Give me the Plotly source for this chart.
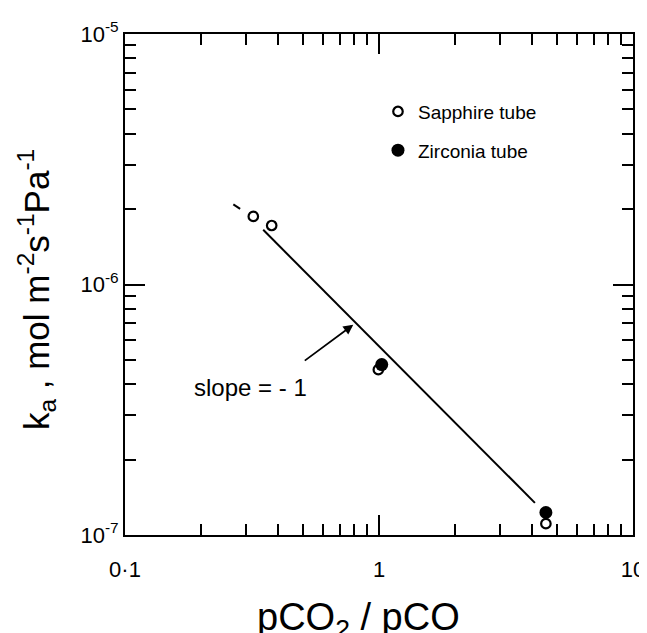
import plotly.graph_objects as go
import math

# Data
sapphire_x = [0.320, 0.378, 0.994, 4.54]
sapphire_y = [1.87e-6, 1.72e-6, 4.57e-7, 1.11e-7]
zirconia_x = [1.025, 4.54]
zirconia_y = [4.79e-7, 1.23e-7]
fit_x = [0.267, 0.284, None, 0.350, 4.11]
fit_y = [2.09e-6, 2.005e-6, None, 1.653e-6, 1.344e-7]
arrow_head = (0.792, 6.91e-7)
slope_label_pos = (0.313, 3.88e-7)
x_tickvals = [0.1, 1, 10]
x_ticktext = ["0·1", "1", "10"]
y_tickvals = [1e-7, 1e-6, 1e-5]
y_ticktext = ["10<sup>-7</sup>", "10<sup>-6</sup>", "10<sup>-5</sup>"]
x_minor = [0.2, 0.3, 0.4, 0.5, 0.6, 0.7, 0.8, 0.9, 2, 3, 4, 5, 6, 7, 8, 9]
y_minor = [2e-7, 3e-7, 4e-7, 5e-7, 6e-7, 7e-7, 8e-7, 9e-7,
           2e-6, 3e-6, 4e-6, 5e-6, 6e-6, 7e-6, 8e-6, 9e-6]

FONT = "Liberation Sans, Arial, sans-serif"

fig = go.Figure()
fig.add_trace(go.Scatter(x=fit_x, y=fit_y, mode="lines",
                         line=dict(color="black", width=2), showlegend=False))
fig.add_trace(go.Scatter(x=sapphire_x, y=sapphire_y, mode="markers", name="Sapphire tube",
                         legendgroup="a",
                         marker=dict(symbol="circle-open", size=9.5, color="black",
                                     line=dict(width=2.2, color="black"))))
fig.add_trace(go.Scatter(x=zirconia_x, y=zirconia_y, mode="markers", name="Zirconia tube",
                         legendgroup="b",
                         marker=dict(symbol="circle", size=13, color="black")))

axis_common = dict(type="log", showgrid=False, zeroline=False, showline=True,
                   linecolor="black", linewidth=2, mirror="ticks", automargin=False,
                   ticks="inside", ticklen=20, tickwidth=2, tickcolor="black",
                   tickfont=dict(family=FONT, size=22, color="black"))

fig.update_layout(
    width=639, height=625,
    margin=dict(l=117, r=14, t=26, b=98),
    paper_bgcolor="white", plot_bgcolor="white",
    xaxis=dict(**axis_common, range=[-1, 1], tickvals=x_tickvals, ticktext=x_ticktext,
               ticklabelstandoff=14,
               minor=dict(tickvals=x_minor, ticks="inside", ticklen=11, tickwidth=2,
                          tickcolor="black", showgrid=False)),
    yaxis=dict(**axis_common, range=[-7, -5], tickvals=y_tickvals, ticktext=y_ticktext,
               ticklabelstandoff=0,
               minor=dict(tickvals=y_minor, ticks="inside", ticklen=11, tickwidth=2,
                          tickcolor="black", showgrid=False)),
    legend=dict(x=0.498, y=0.883, xanchor="left", yanchor="top",
                traceorder="grouped", tracegroupgap=11,
                font=dict(family=FONT, size=19, color="black"),
                bgcolor="rgba(0,0,0,0)"),
    showlegend=True,
)

fig.add_annotation(x=math.log10(arrow_head[0]), y=math.log10(arrow_head[1]),
                   xref="x", yref="y", ax=-50, ay=37, axref="pixel", ayref="pixel",
                   showarrow=True, arrowhead=2, arrowsize=1.1, arrowwidth=1.8,
                   arrowcolor="black", text="")
fig.add_annotation(x=math.log10(slope_label_pos[0]), y=math.log10(slope_label_pos[1]),
                   xref="x", yref="y", showarrow=False, text="slope = - 1",
                   font=dict(family=FONT, size=24, color="black"),
                   xanchor="center", yanchor="middle")
fig.add_annotation(x=-0.175, y=0.489, xref="paper", yref="paper", showarrow=False,
                   textangle=-90, xanchor="center", yanchor="middle",
                   text="k<sub>a</sub> , mol m<sup>-2</sup>s<sup>-1</sup>Pa<sup>-1</sup>",
                   font=dict(family=FONT, size=35, color="black"))
fig.add_annotation(x=0.46, y=-0.170, xref="paper", yref="paper", showarrow=False,
                   xanchor="center", yanchor="middle",
                   text="pCO<sub>2</sub> / pCO",
                   font=dict(family=FONT, size=38, color="black"))

fig.write_html("out.html")
